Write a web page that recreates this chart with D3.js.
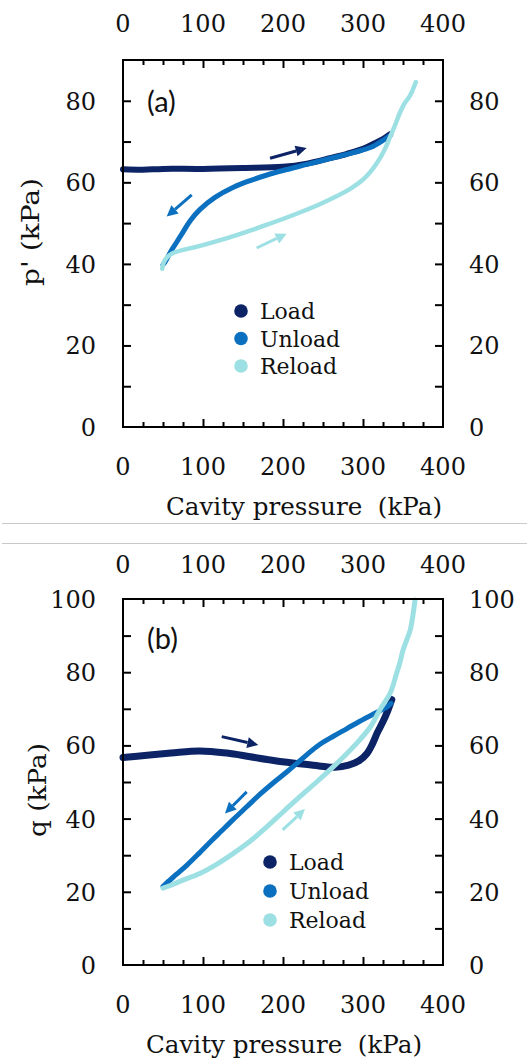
<!DOCTYPE html>
<html><head><meta charset="utf-8">
<script src="https://cdn.jsdelivr.net/npm/d3@7"></script>
<style>
body{margin:0;background:#fff}
svg{display:block}
text{font-family:'DejaVu Serif',serif;fill:#111}
text.plabel{font-family:Lato,'Open Sans',sans-serif}
</style>
</head><body>
<svg id="chart" width="527" height="1059"></svg>
<script>
// ---------- data ----------
const seriesNames = ["Load", "Unload", "Reload"];
const seriesColors = ["#0c2466", "#0b70bf", "#9de0e3"];
const xTickLabels = [0, 100, 200, 300, 400];
const yTickLabelsA = [0, 20, 40, 60, 80];
const yTickLabelsB = [0, 20, 40, 60, 80, 100];
const xTitle = "Cavity pressure  (kPa)";
const yTitleA = "p' (kPa)";
const yTitleB = "q (kPa)";

// panel (a): [cavity pressure kPa, p' kPa]
const loadA = [[0,63.2],[25,63.1],[50,63.3],[100,63.3],[150,63.5],[200,63.8],[230,64.6],[260,66.0],[280,67.0],[300,68.2],[313,69.4],[325,70.6],[334,71.8]];
const unloadA = [[334,71.5],[325,70.3],[310,68.6],[290,67.4],[260,65.9],[230,64.4],[200,62.9],[180,61.8],[160,60.5],[138,58.8],[115,56.3],[96,53.3],[84,50.6],[75,47.8],[67,45.3],[59,42.8],[53,40.6],[50,39.8]];
const reloadA = [[49,38.8],[51,40.4],[55,41.6],[62,42.6],[100,44.6],[138,46.8],[180,49.6],[221,52.6],[250,55.0],[284,58.4],[303,61.2],[317,64.6],[327,68.0],[334,71.2],[340,74.0],[346,77.0],[352,79.4],[358,81.0],[362,82.6],[366,84.6]];

// panel (b): [cavity pressure kPa, q kPa]
const loadB = [[0,56.7],[30,57.3],[60,57.9],[96,58.5],[130,57.9],[159,56.9],[190,55.8],[221,55.0],[245,54.4],[265,54.0],[282,54.6],[295,55.8],[305,57.8],[312,60.5],[318,63.5],[325,66.5],[331,69.5],[336,72.5]];
const unloadB = [[335,71.5],[330,70.5],[315,68.8],[296,66.6],[280,64.6],[263,62.5],[245,60.1],[230,57.5],[218,55.2],[205,52.8],[188,49.8],[171,46.6],[155,43.3],[138,39.8],[123,36.6],[109,33.6],[95,30.5],[80,27.3],[67,24.8],[55,22.5],[50,21.5]];
const reloadB = [[50,21.0],[60,21.8],[75,23.2],[96,25.0],[117,27.5],[138,30.5],[160,34.0],[180,37.8],[200,41.8],[221,46.0],[242,50.0],[263,54.2],[280,57.8],[296,61.5],[310,65.3],[321,69.7],[334,74.3],[342,79.7],[346,82.5],[350,86.0],[355,89.0],[359,91.5],[362,95.0],[365,99.7]];

// direction arrows [x1, y1, x2, y2] in data units
const arrowsA = [[183.8,65.9,229.6,68.4],[85.9,56.9,54.6,51.6],[167.1,43.9,204.6,47.4]];
const arrowsB = [[123.4,62.4,169.1,60.1],[154.6,47.3,127.5,41.4],[199.6,36.9,227.5,42.6]];

// ---------- drawing ----------
const svg = d3.select("#chart");

[523.5, 543.5].forEach(y => svg.append("line").attr("x1",2).attr("x2",527).attr("y1",y).attr("y2",y)
  .attr("stroke","#c9c9c9").attr("stroke-width",1));

function drawPanel(cfg) {
  const g = svg.append("g");
  const x = d3.scaleLinear().domain([0,400]).range([123,443]);
  const y = d3.scaleLinear().domain([0,cfg.yMax]).range([cfg.bottom,cfg.top]);

  const line = d3.line().x(d => x(d[0])).y(d => y(d[1])).curve(d3.curveCatmullRom.alpha(0.5));
  cfg.series.forEach((s,i) => {
    g.append("path").attr("d", line(s)).attr("fill","none")
      .attr("stroke", seriesColors[i]).attr("stroke-width", cfg.widths[i])
      .attr("stroke-linecap","round").attr("stroke-linejoin","round");
  });

  cfg.arrows.forEach((a,i) => {
    const x1 = x(a[0]), y1 = y(a[1]), x2 = x(a[2]), y2 = y(a[3]);
    const ang = Math.atan2(y2-y1, x2-x1);
    const hl = 11, hw = 5.5;
    const bx = x2 - hl*Math.cos(ang), by = y2 - hl*Math.sin(ang);
    g.append("line").attr("x1",x1).attr("y1",y1).attr("x2",bx).attr("y2",by)
      .attr("stroke",seriesColors[i]).attr("stroke-width",3);
    const px = -Math.sin(ang), py = Math.cos(ang);
    g.append("path").attr("d",`M${x2},${y2}L${bx+px*hw},${by+py*hw}L${bx-px*hw},${by-py*hw}Z`)
      .attr("fill",seriesColors[i]);
  });

  const minorX = d3.range(25,400,25).filter(v => v % 100 !== 0);
  const majorX = [100,200,300];
  [[cfg.bottom,d3.axisBottom],[cfg.top,d3.axisTop]].forEach(([py,fn]) => {
    const a1 = g.append("g").attr("transform",`translate(0,${py})`)
      .call(fn(x).tickValues(minorX).tickSize(-5).tickFormat(""));
    const a2 = g.append("g").attr("transform",`translate(0,${py})`)
      .call(fn(x).tickValues(majorX).tickSize(-8).tickFormat(""));
    [a1,a2].forEach(a => { a.select(".domain").remove(); a.selectAll("line").attr("stroke","#000").attr("stroke-width",2); });
  });
  const yt = d3.range(10, cfg.yMax, 10);
  const ayl = g.append("g").attr("transform","translate(123,0)").call(d3.axisLeft(y).tickValues(yt).tickSize(-8).tickFormat(""));
  const ayr = g.append("g").attr("transform","translate(443,0)").call(d3.axisRight(y).tickValues(yt).tickSize(-8).tickFormat(""));
  [ayl,ayr].forEach(a => { a.select(".domain").remove(); a.selectAll("line").attr("stroke","#000").attr("stroke-width",2); });

  g.append("rect").attr("x",x(0)).attr("y",y(cfg.yMax)).attr("width",x(400)-x(0)).attr("height",y(0)-y(cfg.yMax))
    .attr("fill","none").attr("stroke","#000").attr("stroke-width",2);

  xTickLabels.forEach(v => {
    g.append("text").attr("x",x(v)).attr("y",cfg.topLabelBase).attr("text-anchor","middle").attr("font-size",24).text(v);
    g.append("text").attr("x",x(v)).attr("y",cfg.botLabelBase).attr("text-anchor","middle").attr("font-size",24).text(v);
  });
  cfg.yLabels.forEach(v => {
    g.append("text").attr("x",96).attr("y",y(v)+9).attr("text-anchor","end").attr("font-size",24).text(v);
    g.append("text").attr("x",469).attr("y",y(v)+9).attr("text-anchor","start").attr("font-size",24).text(v);
  });

  g.append("text").attr("x",cfg.xTitleX).attr("y",cfg.xTitleBase).attr("text-anchor","middle")
    .attr("font-size",24).attr("textLength",276).attr("lengthAdjust","spacingAndGlyphs")
    .style("white-space","pre").text(xTitle);
  g.append("text").attr("transform",`translate(${cfg.yTitleX},${cfg.yTitleY}) rotate(-90)`)
    .attr("text-anchor","middle").attr("font-size",24)
    .attr("textLength",cfg.yTitleLen).attr("lengthAdjust","spacingAndGlyphs").text(cfg.yTitle);

  g.append("text").attr("class","plabel").attr("x",147).attr("y",cfg.labelBase)
    .attr("font-size",29).text(cfg.label);

  seriesNames.forEach((n,i) => {
    const cy = cfg.legY + i*cfg.legStep;
    g.append("circle").attr("cx",cfg.legX).attr("cy",cy).attr("r",6.8).attr("fill",seriesColors[i]);
    g.append("text").attr("x",cfg.legX+19).attr("y",cy+8).attr("font-size",22).text(n);
  });
}

drawPanel({top:60, bottom:427, yMax:90, yLabels:yTickLabelsA, series:[loadA,unloadA,reloadA],
  widths:[6,5,4.5], arrows:arrowsA, topLabelBase:32, botLabelBase:475,
  xTitleX:304, xTitleBase:515, yTitle:yTitleA, yTitleX:39, yTitleY:232, yTitleLen:108,
  label:"(a)", labelBase:112, legX:241, legY:311, legStep:27.5});

drawPanel({top:599, bottom:965, yMax:100, yLabels:yTickLabelsB, series:[loadB,unloadB,reloadB],
  widths:[7,5,5], arrows:arrowsB, topLabelBase:573, botLabelBase:1013,
  xTitleX:284, xTitleBase:1053, yTitle:yTitleB, yTitleX:46, yTitleY:790, yTitleLen:94,
  label:"(b)", labelBase:649, legX:270, legY:862, legStep:29});
</script>
</body></html>
